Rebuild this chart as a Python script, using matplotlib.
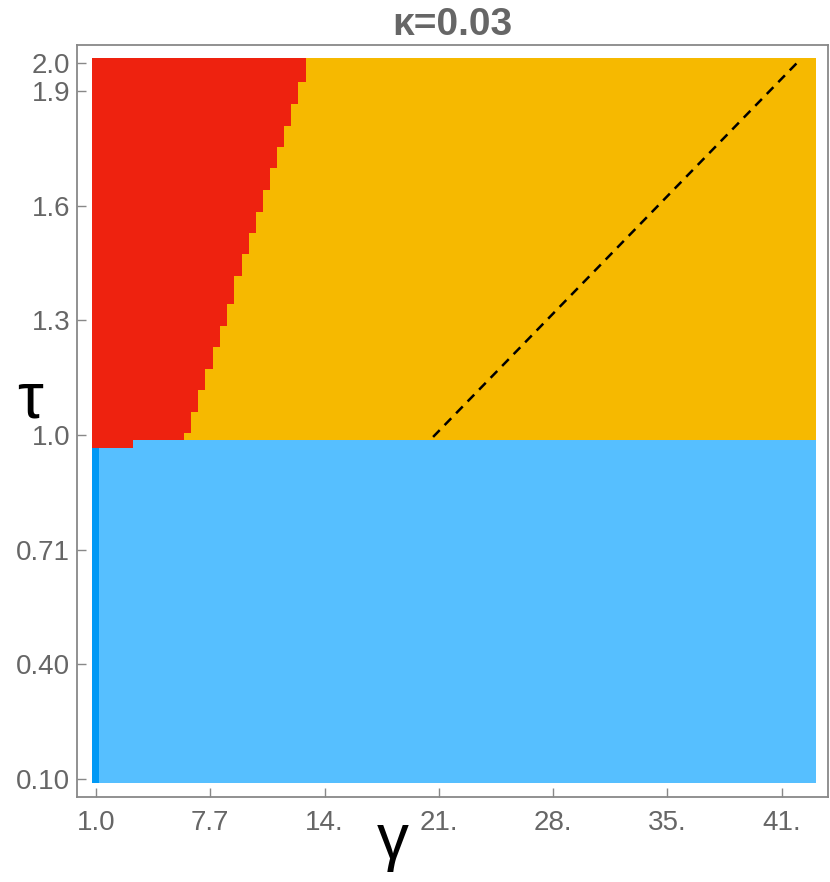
import numpy as np
import matplotlib
matplotlib.use("Agg")
import matplotlib.pyplot as plt

plt.rcParams["font.family"] = ["Liberation Sans", "DejaVu Sans"]

# ---- data ----
title = "κ=0.03"
gamma_range = [0.765, 43.2]          # sampled γ domain
tau_range = [0.0895, 1.986]          # sampled τ domain
tau_crit = 0.987                     # blue / (red, orange) border
tau_crit_low = 0.967                 # lower border near small γ
gamma_kink = 3.17                    # where the border steps
gamma_strip = 1.18                   # dark blue strip right edge

# staircase border between red (small γ) and orange (large γ)
tau_steps = [0.987, 1.005, 1.060, 1.118, 1.173, 1.230, 1.285, 1.343, 1.416,
             1.474, 1.529, 1.584, 1.641, 1.699, 1.754, 1.809, 1.866, 1.924, 1.986]
gamma_border = [6.18, 6.59, 7.00, 7.41, 7.84, 8.27, 8.70, 9.11, 9.54, 9.95,
                10.36, 10.79, 11.20, 11.61, 12.04, 12.45, 12.86, 13.29]

# dashed line endpoints (γ, τ)
dash_gamma = [20.76, 42.09]
dash_tau = [0.995, 1.974]

xtick_pos = [1.0, 7.7, 14.4, 21.1, 27.8, 34.5, 41.2]
xtick_lab = ["1.0", "7.7", "14.", "21.", "28.", "35.", "41."]
ytick_pos = [0.1, 0.4, 0.7, 1.0, 1.3, 1.6, 1.9, 1.974]
ytick_lab = ["0.10", "0.40", "0.71", "1.0", "1.3", "1.6", "1.9", "2.0"]

RED = "#EE220F"
ORANGE = "#F6B900"
LBLUE = "#56BFFF"
DBLUE = "#0099F5"
GRAY = "#666666"

fig = plt.figure(figsize=(8.3, 8.82), dpi=100)
ax = fig.add_axes([77/830, 1-797/882, (828-77)/830, (797-44.5)/882])

g0, g1 = gamma_range
t0, t1 = tau_range

# light blue (lower) region
ax.fill_between([g0, gamma_kink], t0, tau_crit_low, color=LBLUE, lw=0)
ax.fill_between([gamma_kink, g1], t0, tau_crit, color=LBLUE, lw=0)
# dark blue strip
ax.fill_between([g0, gamma_strip], t0, tau_crit_low, color=DBLUE, lw=0)
# red sliver under the kink
ax.fill_between([g0, gamma_kink], tau_crit_low, tau_crit, color=RED, lw=0)
# orange upper region
ax.fill_between([g0, g1], tau_crit, t1, color=ORANGE, lw=0)
# red staircase region
gb = gamma_border + [gamma_border[-1]]
ax.fill_betweenx(tau_steps, g0, gb, step="post", color=RED, lw=0)

# dashed line
ax.plot(dash_gamma, dash_tau, color="black", lw=1.8, dashes=(3.8, 2.8))

ax.set_xlim(-0.114, 43.91)
ax.set_ylim(0.0524, 2.0223)

ax.set_xticks(xtick_pos)
ax.set_xticklabels(xtick_lab)
ax.set_yticks(ytick_pos)
ax.set_yticklabels(ytick_lab)
ax.minorticks_off()
ax.tick_params(direction="in", length=6.5, width=1, color="#888888",
               labelcolor=GRAY, labelsize=20)
ax.tick_params(axis="x", pad=9)
ax.tick_params(axis="y", pad=5)
for s in ax.spines.values():
    s.set_color("#888888")
    s.set_linewidth(1.3)

ax.set_title(title, fontsize=28, fontweight="bold", color=GRAY, pad=7)

fig.text(30/830, 1-417/882, "τ", fontsize=47, color="black",
         ha="center", va="baseline")
fig.text(393/830, 1-842/882, "γ", fontsize=46, color="black",
         ha="center", va="center")

fig.savefig("out.png", dpi=100)
